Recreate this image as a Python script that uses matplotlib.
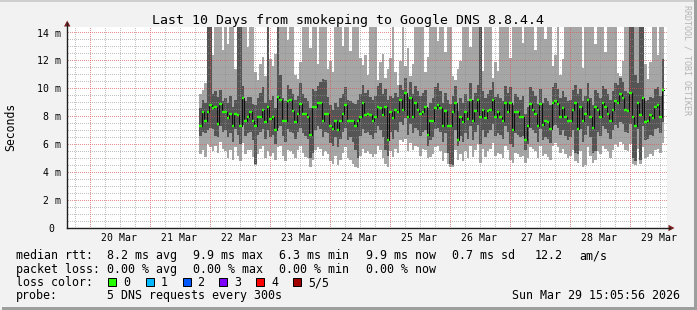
import numpy as np
import matplotlib
matplotlib.use('Agg')
import matplotlib.pyplot as plt
import matplotlib.dates as mdates
from matplotlib.patches import Rectangle, Polygon
from matplotlib.lines import Line2D
from matplotlib.transforms import blended_transform_factory, ScaledTranslation, IdentityTransform
from datetime import datetime, timedelta

# ---------------- data (hourly consolidated smokeping values, ms) ----------------
t_start = datetime(2026, 3, 19, 15, 5, 56)
t_end = datetime(2026, 3, 29, 15, 5, 56)
first_bin = datetime(2026, 3, 21, 20, 0, 0)

median_ms = [
    7.3, 8.3, 7.7, 8.3, 8.8, 8.6, 8.7, 7.5, 8.9, 8.3,
    8.3, 7.9, 8.2, 7.3, 8.2, 8.1, 7.3, 9.3, 7.7, 8.0,
    8.3, 7.7, 7.3, 8.0, 8.0, 8.5, 7.6, 8.7, 7.8, 8.0,
    7.0, 9.4, 9.2, 7.7, 7.7, 9.1, 9.2, 8.4, 7.6, 8.2,
    8.9, 8.2, 8.2, 8.0, 6.7, 8.7, 8.7, 9.0, 9.0, 7.7,
    8.2, 8.2, 7.3, 7.1, 7.7, 7.0, 7.7, 8.2, 8.8, 7.7,
    7.7, 7.7, 7.3, 7.7, 8.0, 9.0, 8.1, 8.2, 8.1, 7.7,
    8.0, 8.7, 8.6, 8.1, 8.7, 6.3, 8.3, 7.9, 8.5, 8.3,
    9.2, 8.5, 9.7, 8.0, 9.3, 8.0, 9.0, 8.5, 8.2, 8.3,
    8.7, 6.7, 7.7, 7.7, 8.6, 8.8, 8.6, 7.3, 8.4, 7.3,
    7.3, 8.3, 9.0, 6.3, 8.0, 7.6, 8.3, 7.8, 9.2, 7.7,
    8.4, 9.2, 8.0, 8.5, 7.9, 8.4, 8.5, 9.2, 8.0, 8.3,
    8.0, 7.7, 9.0, 8.3, 9.0, 7.0, 8.3, 8.3, 8.0, 8.0,
    6.3, 7.3, 8.9, 8.5, 8.2, 7.3, 8.9, 7.4, 7.7, 7.6,
    7.1, 9.0, 9.1, 8.9, 8.0, 8.6, 8.0, 7.7, 7.7, 8.5,
    9.0, 7.1, 8.7, 7.7, 8.2, 9.2, 8.0, 7.2, 8.7, 8.5,
    8.0, 9.0, 8.7, 8.2, 7.7, 8.5, 9.1, 9.0, 9.6, 9.3,
    8.5, 8.4, 9.7, 8.0, 7.3, 9.0, 8.1, 9.3, 7.6, 7.7,
    8.1, 7.9, 8.7, 8.8, 8.0, 9.9,
]

upper_ms = [  # 4th of 5 pings (dark smoke top)
    8.6, 9.2, 9.0, 15, 15, 9.6, 9.8, 9.4, 9.9, 9.1,
    9.3, 9.0, 9.5, 8.7, 9.2, 15, 15, 10.2, 9.1, 9.4,
    9.4, 8.9, 8.8, 9.3, 9.7, 10.1, 9.0, 15, 9.2, 9.5,
    8.6, 15, 11.0, 9.3, 9.1, 10.3, 10.0, 9.6, 9.2, 9.5,
    10.4, 9.6, 9.3, 9.1, 8.6, 10.0, 9.8, 10.2, 10.5, 10.7,
    10.6, 9.4, 8.8, 8.5, 9.0, 8.7, 9.3, 9.6, 10.1, 9.2,
    9.1, 9.0, 8.9, 9.2, 9.6, 10.3, 9.7, 9.9, 9.4, 9.2,
    9.5, 10.2, 10.4, 9.6, 10.0, 9.2, 9.5, 9.3, 9.7, 9.4,
    10.3, 9.9, 10.8, 9.4, 10.5, 9.6, 10.2, 9.8, 9.5, 9.7,
    9.9, 8.6, 9.0, 9.3, 10.1, 10.4, 9.8, 9.0, 9.7, 9.2,
    8.9, 9.5, 10.2, 8.4, 9.3, 9.0, 9.6, 9.1, 10.4, 9.2,
    9.7, 10.3, 15, 9.8, 9.3, 9.6, 9.9, 10.5, 9.4, 9.6,
    9.3, 9.1, 10.2, 9.7, 10.1, 8.8, 9.6, 9.4, 9.2, 9.5,
    8.2, 8.7, 10.1, 9.8, 9.5, 8.9, 10.0, 9.0, 9.3, 9.1,
    8.8, 10.1, 10.4, 10.0, 9.3, 9.8, 9.4, 9.1, 9.2, 9.9,
    10.3, 9.6, 10.0, 9.1, 9.5, 10.4, 9.3, 8.8, 9.9, 9.7,
    9.3, 10.2, 10.0, 9.6, 9.2, 9.8, 10.4, 10.3, 10.8, 10.5,
    9.8, 9.7, 15, 15, 11.0, 10.4, 15, 15, 9.1, 9.2,
    9.4, 9.3, 10.0, 10.1, 9.5, 12.1,
]

lower_ms = [  # 2nd of 5 pings (dark smoke bottom)
    6.6, 6.9, 6.8, 7.0, 7.2, 7.1, 6.6, 6.5, 7.3, 6.9,
    7.0, 6.5, 6.8, 6.2, 7.1, 6.7, 6.0, 7.4, 6.6, 6.8,
    6.9, 6.3, 4.6, 6.7, 6.9, 7.1, 6.4, 7.0, 6.5, 6.7,
    6.0, 7.2, 7.3, 6.6, 6.2, 7.1, 6.9, 6.8, 6.4, 6.9,
    7.2, 6.8, 6.6, 6.4, 5.0, 5.4, 7.0, 7.3, 7.1, 6.5,
    6.9, 6.8, 6.1, 5.9, 6.5, 5.8, 6.4, 6.9, 7.2, 6.3,
    6.5, 6.2, 5.6, 5.0, 6.6, 7.1, 6.8, 6.9, 6.7, 6.4,
    6.8, 7.3, 7.0, 6.5, 5.6, 5.2, 6.9, 6.4, 7.0, 6.9,
    7.6, 7.4, 7.9, 6.7, 7.5, 6.8, 7.2, 7.0, 6.6, 6.9,
    7.0, 5.9, 6.3, 6.5, 7.1, 7.2, 6.9, 6.2, 6.8, 5.4,
    4.6, 4.5, 7.0, 5.9, 6.6, 6.2, 6.8, 6.4, 7.3, 6.3,
    6.9, 7.4, 6.0, 7.0, 6.5, 6.8, 7.0, 7.5, 6.6, 6.8,
    6.7, 6.4, 7.3, 6.9, 6.0, 5.8, 6.8, 6.7, 6.5, 6.6,
    5.6, 6.0, 7.2, 7.0, 6.8, 6.2, 7.1, 6.3, 6.5, 6.4,
    6.1, 7.3, 7.4, 7.2, 6.7, 7.0, 6.6, 6.3, 6.5, 7.0,
    5.4, 5.3, 7.1, 6.2, 6.7, 7.3, 6.5, 5.4, 5.5, 6.9,
    6.6, 7.3, 7.1, 6.8, 6.4, 7.0, 7.4, 7.2, 7.6, 7.5,
    6.9, 6.8, 7.5, 5.0, 4.8, 7.1, 4.9, 7.3, 6.3, 6.4,
    6.7, 6.6, 7.1, 7.2, 6.8, 7.6,
]

min_ms = [
    5.3, 5.6, 5.1, 6.0, 5.8, 5.5, 5.9, 5.4, 6.2, 5.7,
    5.5, 5.0, 5.6, 4.9, 5.8, 5.2, 4.8, 6.1, 5.3, 5.6,
    5.6, 5.1, 4.5, 5.3, 5.7, 5.9, 5.0, 5.5, 5.2, 5.4,
    4.9, 5.8, 5.9, 5.2, 4.8, 5.6, 5.5, 5.3, 5.0, 5.6,
    5.9, 5.4, 5.1, 5.0, 4.4, 4.9, 5.6, 5.8, 5.7, 5.2,
    5.5, 5.3, 4.8, 4.6, 5.2, 4.5, 4.9, 5.4, 5.8, 5.0,
    4.9, 4.6, 4.4, 4.3, 5.2, 5.7, 5.4, 5.5, 5.3, 5.1,
    5.3, 5.9, 5.6, 5.0, 4.6, 4.4, 5.5, 5.1, 5.7, 5.4,
    6.3, 6.2, 6.4, 5.5, 6.1, 5.6, 5.9, 5.8, 5.2, 5.7,
    5.6, 5.0, 5.1, 5.3, 5.8, 5.9, 5.5, 4.8, 5.4, 4.6,
    4.4, 4.4, 5.6, 4.9, 5.3, 4.8, 5.5, 5.0, 5.9, 5.1,
    5.6, 6.0, 4.7, 5.7, 5.1, 5.5, 5.7, 6.1, 5.2, 5.4,
    5.3, 5.0, 5.9, 5.6, 4.9, 4.7, 5.4, 5.3, 5.1, 5.2,
    4.7, 5.0, 5.8, 5.7, 5.5, 5.0, 5.9, 5.2, 5.3, 5.1,
    4.9, 5.9, 6.1, 5.8, 5.4, 5.7, 5.3, 5.0, 5.2, 5.6,
    4.8, 4.7, 5.5, 4.4, 4.5, 5.8, 5.2, 4.7, 4.9, 5.5,
    5.3, 5.9, 5.7, 5.5, 5.0, 5.6, 6.0, 5.8, 6.2, 6.0,
    5.6, 5.5, 6.0, 4.6, 4.5, 5.7, 4.6, 5.8, 5.0, 5.1,
    5.3, 5.2, 5.6, 5.7, 5.4, 6.1,
]

max_ms = [
    9.6, 9.9, 10.4, 15, 15, 12.4, 15, 15, 15, 12.8,
    15, 13.2, 15, 15, 11.4, 15, 15, 15, 15, 13.0,
    15, 15, 11.2, 10.6, 11.8, 12.3, 10.9, 15, 12.1, 11.6,
    12.5, 15, 15, 15, 15, 13.5, 15, 15, 11.0, 10.7,
    11.9, 15, 15, 15, 12.9, 15, 15, 11.8, 15, 15,
    15, 11.4, 12.0, 11.2, 15, 15, 15, 13.1, 15, 15,
    12.7, 15, 15, 15, 12.2, 11.7, 12.4, 11.0, 15, 15,
    15, 10.6, 11.9, 12.5, 10.8, 11.4, 12.2, 15, 11.2, 10.3,
    12.0, 15, 11.6, 12.9, 10.9, 11.8, 15, 15, 15, 15,
    11.2, 12.3, 15, 15, 15, 13.4, 15, 15, 12.6, 15,
    15, 10.9, 10.6, 11.4, 12.0, 15, 15, 15, 13.0, 15,
    15, 15, 15, 11.3, 15, 15, 15, 10.8, 11.9, 11.3,
    15, 15, 15, 15, 12.2, 15, 15, 15, 15, 13.3,
    15, 15, 15, 15, 12.8, 15, 15, 15, 13.6, 15,
    15, 11.6, 12.4, 15, 11.0, 12.1, 15, 15, 15, 15,
    15, 15, 15, 11.5, 15, 15, 15, 15, 13.2, 15,
    15, 15, 12.6, 15, 15, 15, 15, 11.1, 10.9, 12.0,
    15, 15, 15, 15, 15, 15, 15, 15, 11.8, 10.7,
    11.9, 15, 15, 12.4, 15, 15,
]

y_ticks = [0, 2, 4, 6, 8, 10, 12, 14]
y_tick_labels = ['0 ', '2 m', '4 m', '6 m', '8 m', '10 m', '12 m', '14 m']
day_labels = ['20 Mar', '21 Mar', '22 Mar', '23 Mar', '24 Mar',
              '25 Mar', '26 Mar', '27 Mar', '28 Mar', '29 Mar']

loss_labels = ['0', '1', '2', '3', '4', '5/5']
loss_colors = ['#26ff00', '#00b8ff', '#0059ff', '#7e00ff', '#ff0000', '#a10000']

legend_rows = [
    [(16, 'median rtt:'), (107, '8.2 ms avg'), (193, '9.9 ms max'), (279, '6.3 ms min'),
     (366, '9.9 ms now'), (452, '0.7 ms sd'), (535, '12.2'), (579, 'am/s')],
    [(16, 'packet loss:'), (107, '0.00 % avg'), (193, '0.00 % max'), (279, '0.00 % min'),
     (366, '0.00 % now')],
]

# ---------------- figure ----------------
W, H = 697, 310
MONO = 'DejaVu Sans Mono'
plt.rcParams['font.family'] = MONO
fig = plt.figure(figsize=(W / 100, H / 100), dpi=100)
fig.patch.set_facecolor('#f2f2f2')


def P(px, py):
    return (px / W, 1 - py / H)


AX_L, AX_R, AX_B, AX_T = 67, 667, 228, 27
YMAX = 14.43
x0n, x1n = mdates.date2num(t_start), mdates.date2num(t_end)
ax = fig.add_axes([AX_L / W, 1 - AX_B / H, (AX_R - AX_L) / W, (AX_B - AX_T) / H])
ax.set_facecolor('white')
for s in ax.spines.values():
    s.set_visible(False)
ax.set_xlim(x0n, x1n)
ax.set_ylim(0, YMAX)

n = len(median_ms)
edges = mdates.date2num([first_bin + timedelta(hours=i) for i in range(n + 1)])


def ext(a):
    a = np.asarray(a, dtype=float)
    return np.append(a, a[-1])


ax.fill_between(edges, ext(min_ms), ext(max_ms), step='post', color='#a6a6a6', lw=0,
                zorder=1, antialiased=False)
ax.fill_between(edges, ext(lower_ms), ext(upper_ms), step='post', color='#555555', lw=0,
                zorder=2, antialiased=False)

# ---- dotted grid (1px on / 1px off), on top of the smoke ----
GW, GH = AX_R - AX_L, AX_B - AX_T
minor_rgba = (0.56, 0.56, 0.56, 0.55)
major_rgba = (0.87, 0.31, 0.31, 0.62)

# horizontal grid lines: pixel overlay image
overlay = np.zeros((GH, GW, 4))
for k in range(1, 29):
    r = int(np.floor(GH - k * 0.5 * GH / YMAX))
    if 0 <= r < GH:
        overlay[r, 1::2] = major_rgba if k % 4 == 0 else minor_rgba
ax.imshow(overlay, extent=(x0n, x1n, 0, YMAX), aspect='auto', interpolation='nearest',
          origin='upper', zorder=3)

# vertical grid lines: single-pixel markers
ident = IdentityTransform()
y_px = np.arange(H - AX_B + 1, H - AX_T, 2) + 0.5
t = datetime(2026, 3, 19, 18, 0)
while t < t_end:
    xd = ax.transData.transform([[mdates.date2num(t), 0]])[0, 0]
    xc = np.floor(xd) + 0.5
    c = major_rgba if t.hour == 0 else minor_rgba
    ax.plot(np.full_like(y_px, xc), y_px, ls='none', marker=',', color=c,
            transform=ident, zorder=3.2 if t.hour == 0 else 3.1, clip_on=False)
    t += timedelta(hours=6)

# median line
ax.step(edges, ext(median_ms), where='post', color='#101010', lw=0.75, zorder=4)
ax.hlines(median_ms, edges[:-1], edges[1:], colors='#26ff00', lw=1.7, zorder=5)

ax.set_xlim(x0n, x1n)
ax.set_ylim(0, YMAX)
ax.set_xticks([])
ax.set_yticks([])


def off(dx, dy):
    return ScaledTranslation(dx / 100, dy / 100, fig.dpi_scale_trans)


# y tick labels
ytr = blended_transform_factory(ax.transAxes, ax.transData) + off(-6, -3.6)
for v, lab in zip(y_ticks, y_tick_labels):
    ax.text(0, v, lab, transform=ytr, ha='right', va='baseline', fontsize=7.1,
            family=MONO, color='#000000', clip_on=False)

# x tick labels at noon
xtr = blended_transform_factory(ax.transData, ax.transAxes) + off(0, -12.7)
for i, lab in enumerate(day_labels):
    xv = mdates.date2num(datetime(2026, 3, 20 + i, 12, 0))
    ax.text(xv, 0, lab, transform=xtr, ha='center', va='baseline', fontsize=7.1,
            family=MONO, color='#000000', clip_on=False)

# axes lines and arrows
axis_c = '#1f1f1f'
arrow_c = '#7f1f1f'
fig.add_artist(Line2D([P(67, 228)[0], P(670, 228)[0]], [P(67, 228)[1]] * 2,
                      color=axis_c, lw=1.0, transform=fig.transFigure))
fig.add_artist(Line2D([P(67, 228)[0]] * 2, [P(67, 228)[1], P(67, 23)[1]],
                      color=axis_c, lw=1.0, transform=fig.transFigure))
fig.add_artist(Polygon([P(64, 26.5), P(70.5, 26.5), P(67.2, 20.5)], closed=True,
                       facecolor=arrow_c, edgecolor='none', transform=fig.transFigure))
fig.add_artist(Polygon([P(668.5, 224.8), P(668.5, 231.2), P(674.5, 228)], closed=True,
                       facecolor=arrow_c, edgecolor='none', transform=fig.transFigure))

# title and labels
fig.text(*P(348.5, 24), 'Last 10 Days from smokeping to Google DNS 8.8.4.4',
         ha='center', va='baseline', fontsize=9.5, family=MONO, color='#000000')
fig.text(*P(11, 127), 'Seconds', rotation=90, ha='center', va='center',
         fontsize=8.3, family=MONO, color='#000000')
fig.text(*P(687, 5), 'RRDTOOL / TOBI OETIKER', rotation=270, ha='center', va='top',
         fontsize=6.0, family=MONO, color='#b4b4b4')

# legend
LF = 8.4
baselines = [259.3, 272.7, 286.0, 299.3]
for row, yb in zip(legend_rows, baselines[:2]):
    for xpos, txt in row:
        fig.text(*P(xpos, yb), txt, ha='left', va='baseline', fontsize=LF, family=MONO)

fig.text(*P(16, baselines[2]), 'loss color:', ha='left', va='baseline', fontsize=LF, family=MONO)
box_x = [108, 145.5, 182.5, 219, 256, 293]
for bx, col, lab in zip(box_x, loss_colors, loss_labels):
    bx0, by0 = P(bx, 286)
    fig.add_artist(Rectangle((bx0, by0), 8 / W, 8 / H, facecolor=col, edgecolor='#000000',
                             lw=0.72, transform=fig.transFigure))
    fig.text(*P(bx + 15, baselines[2]), lab, ha='left', va='baseline', fontsize=LF, family=MONO)

fig.text(*P(16, baselines[3]), 'probe:', ha='left', va='baseline', fontsize=LF, family=MONO)
fig.text(*P(107, baselines[3]), '5 DNS requests every 300s', ha='left', va='baseline',
         fontsize=LF, family=MONO)
fig.text(*P(680, baselines[3]), 'Sun Mar 29 15:05:56 2026', ha='right', va='baseline',
         fontsize=LF, family=MONO)

# 3D frame
fig.add_artist(Rectangle(P(0, 2), 2 / W, (H - 2) / H, facecolor='#cfcfcf', edgecolor='none',
                         transform=fig.transFigure))
fig.add_artist(Rectangle(P(0, 2), 1, 2 / H, facecolor='#cfcfcf', edgecolor='none',
                         transform=fig.transFigure))
fig.add_artist(Rectangle(P(W - 3, H), 3 / W, 1, facecolor='#9e9e9e', edgecolor='none',
                         transform=fig.transFigure))
fig.add_artist(Rectangle(P(2, H), 1, 3 / H, facecolor='#9e9e9e', edgecolor='none',
                         transform=fig.transFigure))

fig.savefig('out.png', dpi=100, facecolor=fig.get_facecolor())
